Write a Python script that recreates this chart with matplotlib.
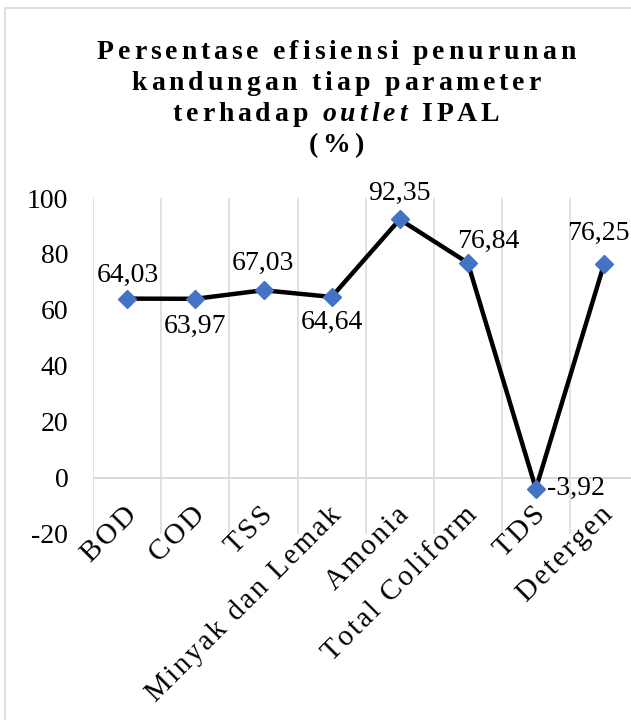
import matplotlib
matplotlib.use("Agg")
import matplotlib.pyplot as plt
from matplotlib.font_manager import FontProperties, findfont, get_font
from matplotlib.patches import Rectangle

categories = ["BOD", "COD", "TSS", "Minyak dan Lemak", "Amonia",
              "Total Coliform", "TDS", "Detergen"]
efficiency = [64.03, 63.97, 67.03, 64.64, 92.35, 76.84, -3.92, 76.25]
yticks = [-20, 0, 20, 40, 60, 80, 100]

# label placement (pixels from the marker), like Excel's per-point positions
label_offsets = [(1, 23), (0, -28), (-1, 27), (0, -25), (0, 26), (20, 21), (11, 0), (-6, 31)]
label_ha = ["center"] * 6 + ["left", "center"]

W, H, DPI = 631, 720, 100
SERIF = "Liberation Serif"
BLUE = "#4472C4"
GRID = "#d9d9d9"
HAIR = "\u200a"


def advance(ch, prop, dpi=DPI):
    font = get_font(findfont(prop))
    font.set_size(prop.get_size_in_points(), dpi)
    g = font.load_char(ord(ch))
    return g.linearHoriAdvance / 65536


def spaced_line(fig, segments, xc, y_base, size, track):
    """Centre a line of (text, style) segments at xc with extra letter spacing (px)."""
    chars = []
    for s, style in segments:
        prop = FontProperties(family=SERIF, weight="bold", style=style, size=size)
        for ch in s:
            chars.append((ch, style, advance(ch, prop)))
    total = sum(a for _, _, a in chars) + track * (len(chars) - 1)
    x = xc - total / 2
    for ch, style, a in chars:
        fig.text(x / W, 1 - y_base / H, ch, fontsize=size, family=SERIF,
                 fontweight="bold", fontstyle=style, ha="left", va="baseline")
        x += a + track


fig = plt.figure(figsize=(W / DPI, H / DPI), dpi=DPI)
ax = fig.add_axes([93.3 / W, 1 - 533.7 / H, (638 - 93.3) / W, (533.7 - 198) / H])

x = list(range(len(categories)))
ax.plot(x, efficiency, color="black", lw=3.2, marker="D", markersize=9.5,
        markerfacecolor=BLUE, markeredgecolor=BLUE, zorder=3, clip_on=False)

ax.set_xlim(-0.5, len(categories) - 0.5)
ax.set_ylim(-20, 100)
ax.set_yticks(yticks)
ax.set_yticklabels([str(v) for v in yticks], family=SERIF, fontsize=20)
ax.tick_params(axis="y", length=0, pad=18)
ax.set_xticks([])
for sp in ax.spines.values():
    sp.set_visible(False)

for b in range(len(categories) + 1):
    ax.axvline(b - 0.5, color=GRID, lw=1.1, zorder=0)
ax.axhline(0, color=GRID, lw=1.4, zorder=1)

for i, (v, (dx, dy), ha) in enumerate(zip(efficiency, label_offsets, label_ha)):
    txt = f"{v:.2f}".replace(".", ",")
    ax.annotate(txt, (i, v), xytext=(dx, dy), textcoords="offset pixels",
                ha=ha, va="center", family=SERIF, fontsize=20)

for i, name in enumerate(categories):
    ax.annotate(HAIR.join(name), (i, 0), xytext=(-4, -24), textcoords="offset pixels",
                rotation=45, rotation_mode="anchor", ha="right", va="top",
                family=[SERIF, "DejaVu Serif"], fontsize=21)

title_lines = [
    [("Persentase efisiensi penurunan", "normal")],
    [("kandungan tiap parameter", "normal")],
    [("terhadap ", "normal"), ("outlet", "italic"), (" IPAL", "normal")],
    [("(%)", "normal")],
]
for line, yb in zip(title_lines, [59, 90, 121, 152]):
    spaced_line(fig, line, 336, yb, 20, 3.9)

fig.add_artist(Rectangle((5 / W, -0.01), 1.02, 1 - 8 / H + 0.01, transform=fig.transFigure,
                         fill=False, edgecolor=GRID, lw=1.2))

fig.savefig("out.png", dpi=DPI)
